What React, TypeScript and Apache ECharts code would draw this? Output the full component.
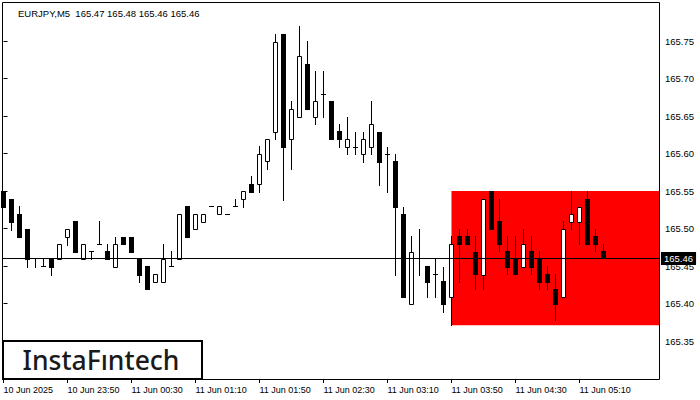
import React, { useEffect, useRef } from "react";
import * as echarts from "echarts";

const symbolName = "EURJPY,M5";

const opens = [
  165.550, 165.539, 165.519, 165.499, 165.460, 165.450, 165.459, 165.459, 165.489, 165.510,
  165.459, 165.470, 165.479, 165.470, 165.449, 165.489, 165.489, 165.459, 165.450, 165.429,
  165.429, 165.450, 165.459, 165.530, 165.499, 165.509, 165.530, 165.519, 165.519, 165.530,
  165.539, 165.559, 165.559, 165.590, 165.629, 165.759, 165.619, 165.649, 165.719, 165.649,
  165.679, 165.670, 165.630, 165.609, 165.609, 165.599, 165.609, 165.629, 165.599, 165.590,
  165.519, 165.399, 165.460, 165.450, 165.439, 165.430, 165.409, 165.490, 165.490, 165.469,
  165.438, 165.550, 165.510, 165.470, 165.459, 165.449, 165.470, 165.459, 165.439, 165.419,
  165.409, 165.509, 165.509, 165.539, 165.490, 165.470,
];

const closes = [
  165.529, 165.509, 165.489, 165.459, 165.460, 165.450, 165.449, 165.479, 165.499, 165.469,
  165.479, 165.470, 165.479, 165.459, 165.479, 165.479, 165.469, 165.438, 165.419, 165.439,
  165.459, 165.450, 165.519, 165.489, 165.519, 165.519, 165.530, 165.530, 165.519, 165.530,
  165.550, 165.549, 165.599, 165.619, 165.749, 165.609, 165.659, 165.730, 165.659, 165.670,
  165.679, 165.619, 165.619, 165.619, 165.609, 165.619, 165.639, 165.589, 165.599, 165.529,
  165.409, 165.469, 165.460, 165.429, 165.439, 165.399, 165.479, 165.479, 165.479, 165.439,
  165.539, 165.499, 165.479, 165.449, 165.439, 165.479, 165.449, 165.429, 165.429, 165.399,
  165.499, 165.519, 165.529, 165.479, 165.479, 165.460,
];

const lows = [
  165.529, 165.498, 165.489, 165.449, 165.449, 165.450, 165.438, 165.459, 165.478, 165.469,
  165.459, 165.459, 165.479, 165.459, 165.449, 165.479, 165.469, 165.429, 165.419, 165.429,
  165.429, 165.450, 165.459, 165.489, 165.499, 165.509, 165.530, 165.519, 165.519, 165.530,
  165.529, 165.549, 165.549, 165.580, 165.619, 165.538, 165.580, 165.649, 165.659, 165.639,
  165.649, 165.619, 165.609, 165.599, 165.599, 165.589, 165.599, 165.558, 165.549, 165.438,
  165.409, 165.399, 165.438, 165.409, 165.409, 165.389, 165.371, 165.429, 165.479, 165.419,
  165.419, 165.499, 165.470, 165.439, 165.439, 165.449, 165.439, 165.419, 165.419, 165.378,
  165.409, 165.499, 165.479, 165.479, 165.470, 165.460,
];

const highs = [
  165.550, 165.539, 165.530, 165.499, 165.460, 165.460, 165.459, 165.479, 165.499, 165.510,
  165.479, 165.470, 165.510, 165.479, 165.489, 165.489, 165.489, 165.459, 165.450, 165.439,
  165.479, 165.470, 165.519, 165.530, 165.519, 165.519, 165.530, 165.530, 165.519, 165.539,
  165.550, 165.570, 165.610, 165.619, 165.759, 165.759, 165.670, 165.770, 165.750, 165.710,
  165.710, 165.670, 165.639, 165.649, 165.629, 165.629, 165.670, 165.629, 165.609, 165.599,
  165.529, 165.490, 165.499, 165.450, 165.459, 165.449, 165.490, 165.499, 165.499, 165.490,
  165.539, 165.550, 165.539, 165.490, 165.490, 165.499, 165.490, 165.470, 165.450, 165.439,
  165.510, 165.550, 165.529, 165.550, 165.499, 165.479,
];

const xTickIndex = [0, 8, 16, 24, 32, 40, 48, 56, 64, 72];
const xTickLabels = [
  "10 Jun 2025",
  "10 Jun 23:50",
  "11 Jun 00:30",
  "11 Jun 01:10",
  "11 Jun 01:50",
  "11 Jun 02:30",
  "11 Jun 03:10",
  "11 Jun 03:50",
  "11 Jun 04:30",
  "11 Jun 05:10",
];

const yTicks = [165.35, 165.4, 165.45, 165.5, 165.55, 165.6, 165.65, 165.7, 165.75];

const patternStart = 56;
const currentPrice = 165.46;

const X_MIN = -0.0625;
const X_MAX = 81.9375;
const Y_MIN = 165.2993333;
const Y_MAX = 165.8006667;

const FONT = "'Liberation Sans', Arial, sans-serif";

export default function App() {
  const ref = useRef<HTMLDivElement>(null);

  useEffect(() => {
    if (!ref.current) return;
    const chart = echarts.init(ref.current, undefined, { renderer: "svg" });

    const candleData = opens.map((o, i) => [i, o, closes[i], lows[i], highs[i]]);
    const rectTop = Math.max(...highs.slice(patternStart));
    const rectBottom = Math.min(...lows.slice(patternStart));
    const n = opens.length - 1;
    const titleText = `${symbolName}  ${opens[n].toFixed(2)} ${highs[n].toFixed(2)} ${lows[n].toFixed(2)} ${closes[n].toFixed(2)}`;

    const labelMap: Record<number, string> = {};
    xTickIndex.forEach((v, k) => (labelMap[v] = xTickLabels[k]));

    const option: any = {
      animation: false,
      backgroundColor: "#ffffff",
      grid: { left: 3, right: 41, top: 3, bottom: 21, containLabel: false },
      xAxis: {
        type: "value",
        min: X_MIN,
        max: X_MAX,
        splitLine: { show: false },
        axisLine: { show: false },
        axisTick: {
          show: true,
          customValues: xTickIndex,
          length: 4,
          lineStyle: { color: "#000", width: 1 },
        },
        axisLabel: {
          show: true,
          customValues: xTickIndex,
          formatter: (v: number) => labelMap[v] ?? "",
          align: "left",
          margin: 6,
          fontSize: 9,
          fontFamily: FONT,
          color: "#000",
        },
      },
      yAxis: {
        type: "value",
        position: "right",
        min: Y_MIN,
        max: Y_MAX,
        scale: true,
        splitLine: { show: false },
        axisLine: { show: false },
        axisTick: {
          show: true,
          customValues: yTicks,
          length: 4,
          lineStyle: { color: "#000", width: 1 },
        },
        axisLabel: {
          show: true,
          customValues: yTicks,
          formatter: (v: number) => v.toFixed(2),
          margin: 6,
          fontSize: 9.5,
          fontFamily: FONT,
          color: "#000",
        },
      },
      series: [
        {
          type: "line",
          data: [],
          z: 1,
          silent: true,
          markArea: {
            silent: true,
            itemStyle: { color: "#ff0000", opacity: 1 },
            data: [[{ xAxis: patternStart, yAxis: rectTop }, { xAxis: X_MAX, yAxis: rectBottom }]],
          },
        },
        {
          type: "custom",
          z: 3,
          data: candleData,
          encode: { x: 0, y: [1, 2, 3, 4] },
          renderItem: (params: any, api: any) => {
            const i = api.value(0);
            const o = api.value(1);
            const c = api.value(2);
            const l = api.value(3);
            const h = api.value(4);
            const p = api.coord([i, o]);
            const yo = p[1];
            const yc = api.coord([i, c])[1];
            const yl = api.coord([i, l])[1];
            const yh = api.coord([i, h])[1];
            const x = Math.floor(p[0]) + 0.5;
            const r = (y: number) => Math.round(y) + 0.5;
            const children: any[] = [
              {
                type: "line",
                shape: { x1: x, y1: Math.round(yh), x2: x, y2: Math.round(yl) + 1 },
                style: { stroke: "#000", lineWidth: 1 },
              },
            ];
            const top = Math.min(yo, yc);
            const bot = Math.max(yo, yc);
            if (Math.round(yo) === Math.round(yc)) {
              children.push({
                type: "line",
                shape: { x1: x - 2.5, y1: r(yo), x2: x + 2.5, y2: r(yo) },
                style: { stroke: "#000", lineWidth: 1 },
              });
            } else if (c > o) {
              children.push({
                type: "rect",
                shape: { x: x - 2, y: r(top), width: 4, height: r(bot) - r(top) },
                style: { fill: "#fff", stroke: "#000", lineWidth: 1 },
              });
            } else {
              children.push({
                type: "rect",
                shape: {
                  x: x - 2.5,
                  y: Math.round(top),
                  width: 5,
                  height: Math.round(bot) - Math.round(top) + 1,
                },
                style: { fill: "#000" },
              });
            }
            return { type: "group", children };
          },
        },
        {
          type: "line",
          data: [],
          z: 5,
          silent: true,
          markLine: {
            silent: true,
            symbol: ["none", "none"],
            lineStyle: { color: "#000", width: 1, type: "solid" },
            label: {
              show: true,
              position: "end",
              formatter: currentPrice.toFixed(2),
              color: "#fff",
              backgroundColor: "#000",
              padding: [2, 3, 1, 3],
              fontSize: 9.5,
              fontFamily: FONT,
              distance: 2,
            },
            data: [{ yAxis: currentPrice }],
          },
        },
      ],
      graphic: [
        {
          type: "rect",
          z: 20,
          silent: true,
          shape: { x: 2.5, y: 2.5, width: 657, height: 377 },
          style: { fill: "none", stroke: "#000", lineWidth: 1 },
        },
        {
          type: "text",
          z: 20,
          silent: true,
          x: 18,
          y: 13,
          style: {
            text: titleText,
            fill: "#000",
            fontSize: 9.5,
            fontFamily: FONT,
            verticalAlign: "middle",
            align: "left",
          },
        },
        {
          type: "rect",
          z: 21,
          silent: true,
          shape: { x: 3, y: 341, width: 199, height: 38 },
          style: { fill: "#fff", stroke: "#000", lineWidth: 2 },
        },
        {
          type: "text",
          z: 22,
          silent: true,
          x: 101,
          y: 360,
          style: {
            text: "InstaFıntech",
            fill: "#1a1a1a",
            fontSize: 26.5,
            fontWeight: 500,
            fontFamily: "'Noto Sans', 'Open Sans', sans-serif",
            align: "center",
            verticalAlign: "middle",
          },
        },
      ],
    };

    chart.setOption(option);
    return () => chart.dispose();
  }, []);

  return (
    <div
      ref={ref}
      style={{ position: "fixed", left: 0, top: 0, width: 700, height: 400, background: "#fff" }}
    />
  );
}
